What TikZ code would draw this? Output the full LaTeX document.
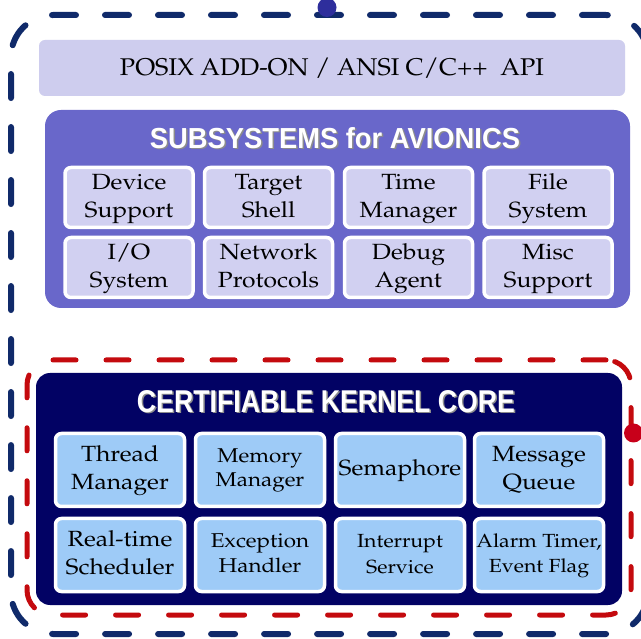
\documentclass[tikz,border=0pt]{standalone}
\usepackage[T1]{fontenc}
\usepackage{fontspec}
\usepackage{graphicx}
\newfontfamily\titlefont{Liberation Sans}
\newcommand\pal{\fontencoding{T1}\fontfamily{ppl}\selectfont}
\newcommand\bt[3]{\scalebox{1.12}[1]{\fontsize{#1}{#2}\pal\begin{tabular}{@{}c@{}}#3\end{tabular}}}
\newcommand\ttl[1]{\titlefont\bfseries #1}
\definecolor{bluedashc}{RGB}{16,42,106}
\definecolor{reddashc}{RGB}{196,10,14}
\definecolor{bluedotc}{RGB}{46,46,156}
\definecolor{reddotc}{RGB}{200,0,26}
\definecolor{apic}{RGB}{206,205,238}
\definecolor{subc}{RGB}{105,103,202}
\definecolor{subboxc}{RGB}{209,208,241}
\definecolor{kernc}{RGB}{2,2,100}
\definecolor{kboxc}{RGB}{158,203,247}
\tikzset{
  panel/.style={rectangle, inner sep=0pt},
  subbox/.style={rectangle, draw=white, line width=3.5pt, fill=subboxc, rounded corners=6pt,
     minimum width=128pt, minimum height=60pt, inner sep=0pt},
  kbox/.style={rectangle, draw=white, line width=3.5pt, fill=kboxc, rounded corners=6pt,
     minimum width=129pt, minimum height=73pt, inner sep=0pt},
  bluedash/.style={rectangle, draw=bluedashc, line width=6pt, line cap=round,
     dash pattern=on 24pt off 29pt, rounded corners=42pt, inner sep=0pt},
  reddash/.style={rectangle, draw=reddashc, line width=5pt, line cap=round,
     dash pattern=on 23pt off 30pt, rounded corners=25pt, inner sep=0pt},
  titleshadow/.style={text=black!45, inner sep=0pt},
  titletext/.style={text=white, inner sep=0pt},
}
\begin{document}
\begin{tikzpicture}[x=1pt,y=-1pt]
\useasboundingbox (0,0) rectangle (641,639);
\fill[white] (0,0) rectangle (641,639);
% outer dashed frames
\node[bluedash, minimum width=637pt, minimum height=619pt] (outer) at (329.5,324.5) {};
\fill[bluedotc] (outer.north) ++(-2.5,-4.5) circle (9.5pt) coordinate (bdot);
% API bar
\node[panel, fill=apic, rounded corners=6pt, minimum width=586pt, minimum height=56pt] (api) at (332,68)
  {\resizebox{424pt}{17.5pt}{\pal POSIX ADD-ON / ANSI C/C++\ \ API}};
% subsystems panel
\node[panel, fill=subc, rounded corners=16pt, minimum width=585pt, minimum height=198pt] (sub) at (337.5,209) {};
\node[titleshadow] (subts) at (336.5,139.5) {\resizebox{370pt}{21pt}{\ttl{SUBSYSTEMS for AVIONICS}}};
\node[titletext] (subt) at (335,138) {\resizebox{370pt}{21pt}{\ttl{SUBSYSTEMS for AVIONICS}}};
\node[subbox] (s1) at (129,197.5) {\bt{22}{28}{Device\\Support}};
\node[subbox] (s2) at (268.5,197.5) {\bt{22}{28}{Target\\Shell}};
\node[subbox] (s3) at (408.5,197.5) {\bt{22}{28}{Time\\Manager}};
\node[subbox] (s4) at (548,197.5) {\bt{22}{28}{File\\System}};
\node[subbox] (s5) at (129,267.5) {\bt{22}{28}{I/O\\System}};
\node[subbox] (s6) at (268.5,267.5) {\bt{22}{28}{Network\\Protocols}};
\node[subbox] (s7) at (408.5,267.5) {\bt{22}{28}{Debug\\Agent}};
\node[subbox] (s8) at (548,267.5) {\bt{22}{28}{Misc\\Support}};
% red frame
\node[reddash, minimum width=604pt, minimum height=255pt] (redf) at (329,487.5) {};
% kernel panel
\node[panel, fill=kernc, rounded corners=14pt, minimum width=586pt, minimum height=232pt] (kern) at (329,489) {};
\fill[reddotc] (redf.east) ++(0,-54.5) circle (9.5pt) coordinate (rdot);
\node[titleshadow] (kts) at (327.5,403) {\resizebox{378pt}{22pt}{\ttl{CERTIFIABLE KERNEL CORE}}};
\node[titletext] (kt) at (326,401.5) {\resizebox{378pt}{22pt}{\ttl{CERTIFIABLE KERNEL CORE}}};
\node[kbox] (k1) at (120,470) {\bt{22}{28}{Thread\\Manager}};
\node[kbox] (k2) at (260,470) {\bt{20}{24}{Memory\\Manager}};
\node[kbox] (k3) at (400,470) {\bt{22}{28}{Semaphore}};
\node[kbox] (k4) at (539,470) {\bt{22}{28}{Message\\Queue}};
\node[kbox] (k5) at (120,555) {\bt{22}{28}{Real-time\\Scheduler}};
\node[kbox] (k6) at (260,555) {\bt{20}{25}{Exception\\Handler}};
\node[kbox] (k7) at (400,555) {\bt{19}{26}{Interrupt\\Service}};
\node[kbox] (k8) at (539,555) {\bt{19}{25}{Alarm Timer,\\Event Flag}};
\end{tikzpicture}
\end{document}
